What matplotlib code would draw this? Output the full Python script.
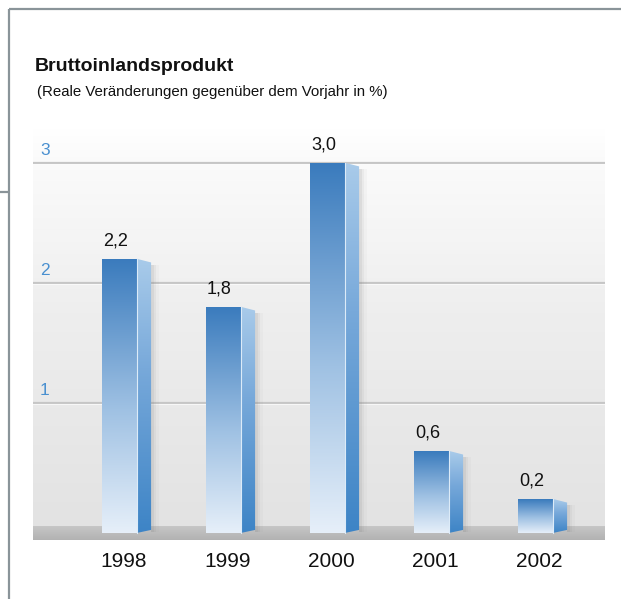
import numpy as np
import matplotlib.pyplot as plt
from matplotlib.patches import Rectangle, Polygon
from matplotlib.colors import LinearSegmentedColormap

# Daten
years = ["1998", "1999", "2000", "2001", "2002"]
values = [2.2, 1.8, 3.0, 0.6, 0.2]
value_labels = ["2,2", "1,8", "3,0", "0,6", "0,2"]
y_ticks = [1, 2, 3]

W, H = 621, 599
plt.rcParams['font.family'] = ['Liberation Sans', 'DejaVu Sans']
fig = plt.figure(figsize=(W / 100, H / 100), dpi=100)


def px_box(x0, y0, x1, y1):
    # Pixelbox (oben links Ursprung) -> figure-Koordinaten
    return [x0 / W, 1 - y1 / H, (x1 - x0) / W, (y1 - y0) / H]


# ── Rahmenlinien ─────────────────────────────────────────────
frame = fig.add_axes([0, 0, 1, 1])
frame.set_xlim(0, W)
frame.set_ylim(H, 0)
frame.axis("off")
fc = "#8a9499"
frame.plot([8.5, W], [8.5, 8.5], color=fc, lw=1.6, solid_capstyle="butt")
frame.plot([8.5, 8.5], [8.5, H], color=fc, lw=1.6, solid_capstyle="butt")
frame.plot([0, 8.5], [192, 192], color=fc, lw=1.6, solid_capstyle="butt")

# ── Titel ────────────────────────────────────────────────────
fig.text(35 / W, 1 - 71 / H, "Bruttoinlandsprodukt", fontsize=14,
         fontweight="bold", color="#111111", va="baseline")
fig.text(37 / W, 1 - 96 / H, "(Reale Veränderungen gegenüber dem Vorjahr in %)",
         fontsize=10.85, color="#111111", va="baseline")

# ── Diagrammfläche ───────────────────────────────────────────
ax = fig.add_axes(px_box(33, 128, 605, 540))
ax.set_zorder(2)
xmin, xmax = -0.832, 4.668
ymin, ymax = -0.142, 3.29
ax.set_xlim(xmin, xmax)
ax.set_ylim(ymin, ymax)

bg_cmap = LinearSegmentedColormap.from_list(
    "bg", [(0.0, "#e2e2e2"), (0.55, "#eeeeee"), (0.93, "#fbfbfb"), (1.0, "#ffffff")])
grad = np.linspace(0, 1, 256).reshape(-1, 1)
ax.imshow(grad, extent=(xmin, xmax, ymin, ymax), origin="lower", aspect="auto",
          cmap=bg_cmap, zorder=0)

# Gitterlinien
for t in y_ticks:
    ax.axhline(t, color="#c6c6c6", lw=1.6, zorder=1)
    ax.axhline(t - 0.012, color="#ffffff", lw=0.8, alpha=0.7, zorder=1)
    ax.text(xmin + 0.068, t + 0.04, str(t), color="#4a90d0", fontsize=12.5,
            ha="left", va="bottom", zorder=3)

# Boden
floor_cmap = LinearSegmentedColormap.from_list("floor", ["#b2b2b2", "#c6c6c6"])
ax.imshow(grad, extent=(xmin, xmax, ymin, -0.033), origin="lower", aspect="auto",
          cmap=floor_cmap, zorder=1)

# ── Balken ───────────────────────────────────────────────────
front_cmap = LinearSegmentedColormap.from_list(
    "front", [(0.0, "#e6eff9"), (0.45, "#9fc1e3"), (1.0, "#3a7bbd")])
side_cmap = LinearSegmentedColormap.from_list(
    "side", [(0.0, "#3d84c6"), (0.6, "#78a9da"), (1.0, "#a9cbea")])

fw = 0.337   # Breite Vorderseite
sw = 0.135   # Breite Seitenfläche
base = -0.083

for i, v in enumerate(values):
    x0 = i - fw / 2
    x1 = x0 + fw
    x2 = x1 + sw

    # Schatten
    for k, a in enumerate([0.10, 0.07, 0.04]):
        sh = Rectangle((x2, base + 0.01), 0.025 * (k + 1), v - base - 0.06,
                       facecolor="#777777", edgecolor="none", alpha=a, zorder=2)
        ax.add_patch(sh)

    # Vorderseite
    front = Rectangle((x0, base), fw, v - base, facecolor="none",
                      edgecolor="none", zorder=3)
    ax.add_patch(front)
    im = ax.imshow(grad, extent=(x0, x1, base, v), origin="lower", aspect="auto",
                   cmap=front_cmap, zorder=3)
    im.set_clip_path(front)

    # Seitenfläche
    side = Polygon([(x1, base), (x2, base + 0.025), (x2, v - 0.03), (x1, v)],
                   closed=True, facecolor="none", edgecolor="none", zorder=3)
    ax.add_patch(side)
    im2 = ax.imshow(grad, extent=(x1, x2, base, v), origin="lower", aspect="auto",
                    cmap=side_cmap, zorder=3)
    im2.set_clip_path(side)
    ax.plot([x1, x1], [base, v], color="#dcebf8", lw=0.8, zorder=4)

    # Wertbeschriftung
    ax.text(i - 0.04, v + 0.08, value_labels[i], fontsize=13, color="#111111",
            ha="center", va="bottom", zorder=5)

# ── Achsen ───────────────────────────────────────────────────
ax.set_xticks(np.arange(len(years)) + 0.035)
ax.set_xticklabels(years, fontsize=15, color="#111111")
ax.tick_params(axis="x", length=0, pad=8.5)
ax.set_yticks([])
for s in ax.spines.values():
    s.set_visible(False)

fig.savefig("out.png", dpi=100)
